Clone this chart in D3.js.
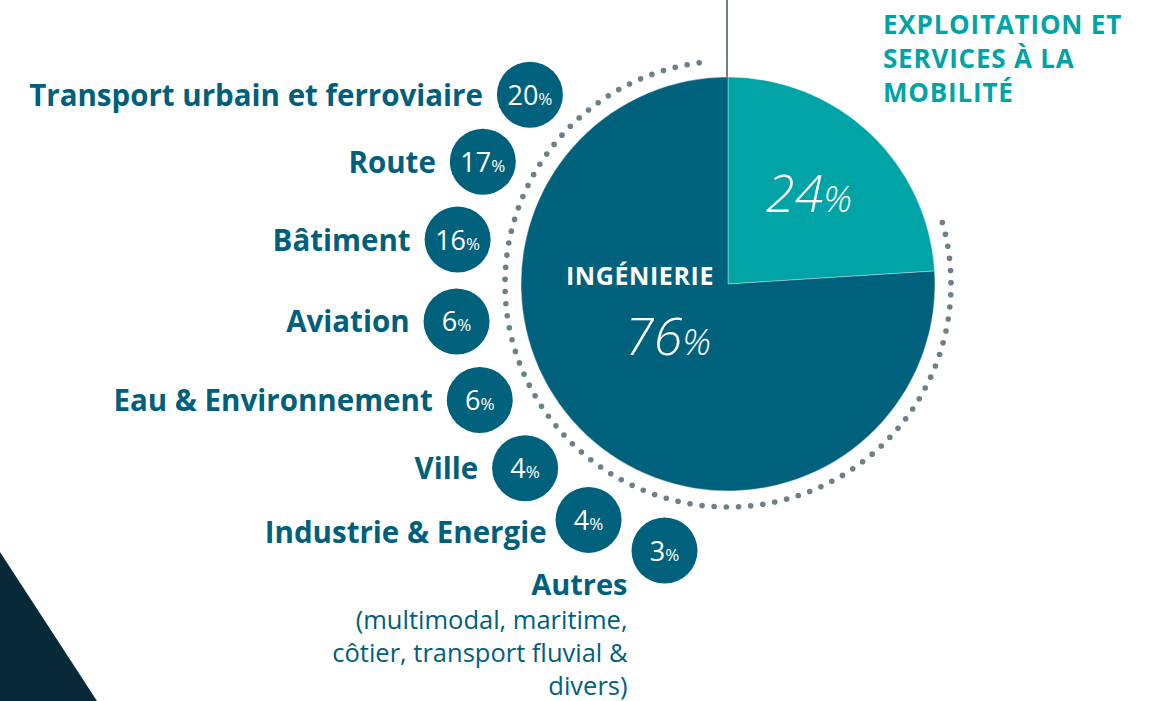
<!DOCTYPE html>
<html>
<head>
<meta charset="utf-8">
<script src="https://cdn.jsdelivr.net/npm/d3@7"></script>
<style>
  body { margin: 0; background: #fff; }
  svg { display: block; font-family: "Open Sans", "Noto Sans", sans-serif; }
</style>
</head>
<body>
<div id="chart"></div>
<script>
// activity split (big pie)
var segments = ["Exploitation et services à la mobilité", "Ingénierie"];
var segmentShares = [24, 76];
var segmentTitle = ["EXPLOITATION ET", "SERVICES À LA", "MOBILITÉ"];

// engineering breakdown (bubbles)
var sectors = ["Transport urbain et ferroviaire", "Route", "Bâtiment", "Aviation",
  "Eau & Environnement", "Ville", "Industrie & Energie", "Autres"];
var sectorShares = [20, 17, 16, 6, 6, 4, 4, 3];
var othersNote = ["(multimodal, maritime,", "côtier, transport fluvial &", "divers)"];

var width = 1152, height = 701;
var cx = 728, cy = 284, radius = 207;
var dark = "#00617d", teal = "#00a4a6", ink = "#00607b";

var svg = d3.select("#chart").append("svg")
    .attr("width", width)
    .attr("height", height);

// corner triangle
svg.append("path")
    .attr("d", "M0,552L97,701L0,701Z")
    .attr("fill", "#082a38");

// vertical guide line above the pie
svg.append("line")
    .attr("x1", cx - 1).attr("x2", cx - 1)
    .attr("y1", 0).attr("y2", cy - radius)
    .attr("stroke", "#3e5461")
    .attr("stroke-width", 1.5);

var deg = Math.PI / 180;

// dotted ring
var ringR = 223, dotStep = 3.13 * deg;
var ringStart = 74 * deg, ringEnd = 355 * deg;
var dots = d3.range(ringStart, ringEnd + 1e-6, dotStep);
svg.append("g").attr("class", "ring")
  .selectAll("circle")
  .data(dots)
  .enter().append("circle")
    .attr("cx", function (a) { return cx + ringR * Math.sin(a); })
    .attr("cy", function (a) { return cy - ringR * Math.cos(a); })
    .attr("r", 2.8)
    .attr("fill", "#6f7f88");

// pie
var pie = d3.pie().sort(null).value(function (d) { return d; });
var arc = d3.arc().innerRadius(0).outerRadius(radius);
var colors = d3.scaleOrdinal().domain(segments).range([teal, dark]);

var pieG = svg.append("g")
    .attr("transform", "translate(" + cx + "," + cy + ")");

pieG.selectAll("path")
    .data(pie(segmentShares))
    .enter().append("path")
    .attr("d", arc)
    .attr("fill", function (d, i) { return colors(segments[i]); })
    .attr("stroke", "#ffffff")
    .attr("stroke-width", 0.6)
    .attr("stroke-opacity", 0.6);

function bigPct(g, x, y, v) {
  var t = g.append("text")
      .attr("x", x).attr("y", y)
      .attr("text-anchor", "middle")
      .attr("fill", "#fff")
      .style("font-style", "italic")
      .style("font-weight", 300);
  t.append("tspan").style("font-size", "52px").text(v);
  t.append("tspan").style("font-size", "37px").text("%");
}

var slices = pie(segmentShares);
bigPct(pieG, 81, -72, slices[0].data);
pieG.append("text")
    .attr("x", -88).attr("y", 1)
    .attr("text-anchor", "middle")
    .attr("fill", "#fff")
    .style("font-weight", 700)
    .style("font-size", "25px")
    .style("letter-spacing", "0.6px")
    .text(segments[1].toUpperCase());
bigPct(pieG, -60, 71, slices[1].data);

// title of the teal slice
svg.append("text")
    .attr("x", 883).attr("y", 34)
    .attr("fill", teal)
    .style("font-weight", 700)
    .style("font-size", "26px")
    .style("letter-spacing", "0.8px")
  .selectAll("tspan")
  .data(segmentTitle)
  .enter().append("tspan")
    .attr("x", 883)
    .attr("dy", function (d, i) { return i ? 34 : 0; })
    .text(function (d) { return d; });

// bubbles placed on an outer arc
var bubbleR = 33, orbit = 274;
var angle = d3.scalePoint().domain(sectors).range([-46.3, -166.6]);
function bx(name) { return cx + orbit * Math.sin(angle(name) * deg); }
function by(name) { return cy - orbit * Math.cos(angle(name) * deg); }

var bubbles = svg.append("g").attr("class", "bubbles")
  .selectAll("g")
  .data(sectors)
  .enter().append("g")
    .attr("transform", function (d) { return "translate(" + bx(d) + "," + by(d) + ")"; });

bubbles.append("circle")
    .attr("r", bubbleR)
    .attr("fill", dark);

var pct = bubbles.append("text")
    .attr("text-anchor", "middle")
    .attr("y", 10)
    .attr("fill", "#fff");
pct.append("tspan").style("font-size", "27px")
    .text(function (d, i) { return sectorShares[i]; });
pct.append("tspan").style("font-size", "17px").text("%");

// sector labels
var last = sectors.length - 1;
bubbles.filter(function (d, i) { return i < last; })
  .append("text")
    .attr("text-anchor", "end")
    .attr("x", function (d, i) { return -bubbleR - (i === last - 1 ? 9 : 14); })
    .attr("y", function (d, i) { return i === last - 1 ? 23 : 11; })
    .attr("fill", ink)
    .style("font-weight", 700)
    .style("font-size", "29.5px")
    .text(function (d) { return d; });

var others = bubbles.filter(function (d, i) { return i === last; });
others.append("text")
    .attr("text-anchor", "end")
    .attr("x", -37).attr("y", 44)
    .attr("fill", ink)
    .style("font-weight", 700)
    .style("font-size", "29px")
    .text(function (d) { return d; });
others.append("text")
    .attr("text-anchor", "end")
    .attr("y", 78)
    .attr("fill", ink)
    .style("font-size", "25.5px")
  .selectAll("tspan")
  .data(othersNote)
  .enter().append("tspan")
    .attr("x", -37)
    .attr("dy", function (d, i) { return i ? 33 : 0; })
    .text(function (d) { return d; });
</script>
</body>
</html>
